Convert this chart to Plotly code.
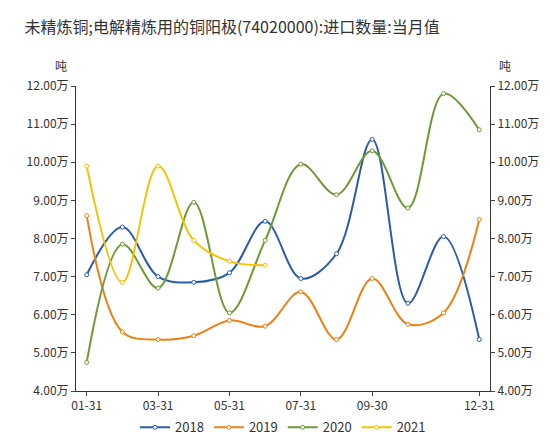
import plotly.graph_objects as go

months = ["01-31", "02-28", "03-31", "04-30", "05-31", "06-30",
          "07-31", "08-31", "09-30", "10-31", "11-30", "12-31"]
tick_months = ["01-31", "03-31", "05-31", "07-31", "09-30", "12-31"]
y_ticks = [4, 5, 6, 7, 8, 9, 10, 11, 12]
y_labels = ["%.2f万" % v for v in y_ticks]

v2018 = [7.05, 8.3, 7.0, 6.85, 7.1, 8.45, 6.95, 7.6, 10.6, 6.3, 8.05, 5.35]
v2019 = [8.6, 5.55, 5.35, 5.45, 5.85, 5.7, 6.6, 5.35, 6.95, 5.75, 6.05, 8.5]
v2020 = [4.75, 7.85, 6.7, 8.95, 6.05, 7.95, 9.95, 9.15, 10.3, 8.8, 11.8, 10.85]
v2021 = [9.9, 6.85, 9.9, 7.95, 7.4, 7.3]

series = [("2018", v2018, "#2a5caa"), ("2019", v2019, "#f07f12"),
          ("2020", v2020, "#6e9a33"), ("2021", v2021, "#f5c400")]

fig = go.Figure()
for name, vals, col in series:
    fig.add_trace(go.Scatter(
        x=months[:len(vals)], y=vals, name=name, mode="lines+markers",
        line=dict(color=col, width=2, shape="spline", smoothing=1),
        marker=dict(size=4, color="white", line=dict(color=col, width=1)),
    ))
# invisible trace for right axis
fig.add_trace(go.Scatter(x=months, y=v2018, yaxis="y2", showlegend=False,
                         mode="lines", line=dict(width=0), hoverinfo="skip"))

axis_font = dict(family="Noto Sans CJK SC", size=12, color="#333")
fig.update_layout(
    width=550, height=446,
    margin=dict(l=68, r=68, t=78, b=52),
    plot_bgcolor="white", paper_bgcolor="white",
    font=axis_font,
    title=dict(text="未精炼铜;电解精炼用的铜阳极(74020000):进口数量:当月值",
               x=0.03, y=0.97, font=dict(size=16, color="#333")),
    xaxis=dict(type="category", categoryorder="array", categoryarray=months,
               tickvals=tick_months, ticks="outside", ticklen=4,
               showline=True, linecolor="#333", showgrid=False,
               range=[-0.3, 11.3]),
    yaxis=dict(range=[4, 12], tickvals=y_ticks, ticktext=y_labels,
               showline=True, linecolor="#333", ticks="outside", ticklen=4,
               showgrid=False, zeroline=False),
    yaxis2=dict(range=[4, 12], tickvals=y_ticks, ticktext=y_labels,
                overlaying="y", side="right", showline=True, linecolor="#333",
                ticks="outside", ticklen=4, showgrid=False, zeroline=False),
    legend=dict(orientation="h", x=0.5, xanchor="center", y=-0.07,
                yanchor="top", font=dict(size=13)),
    annotations=[
        dict(text="吨", xref="paper", yref="paper", x=-0.055, y=1.1,
             showarrow=False, font=dict(size=12)),
        dict(text="吨", xref="paper", yref="paper", x=1.055, y=1.1,
             showarrow=False, font=dict(size=12)),
    ],
)
fig.write_html("out.html")
